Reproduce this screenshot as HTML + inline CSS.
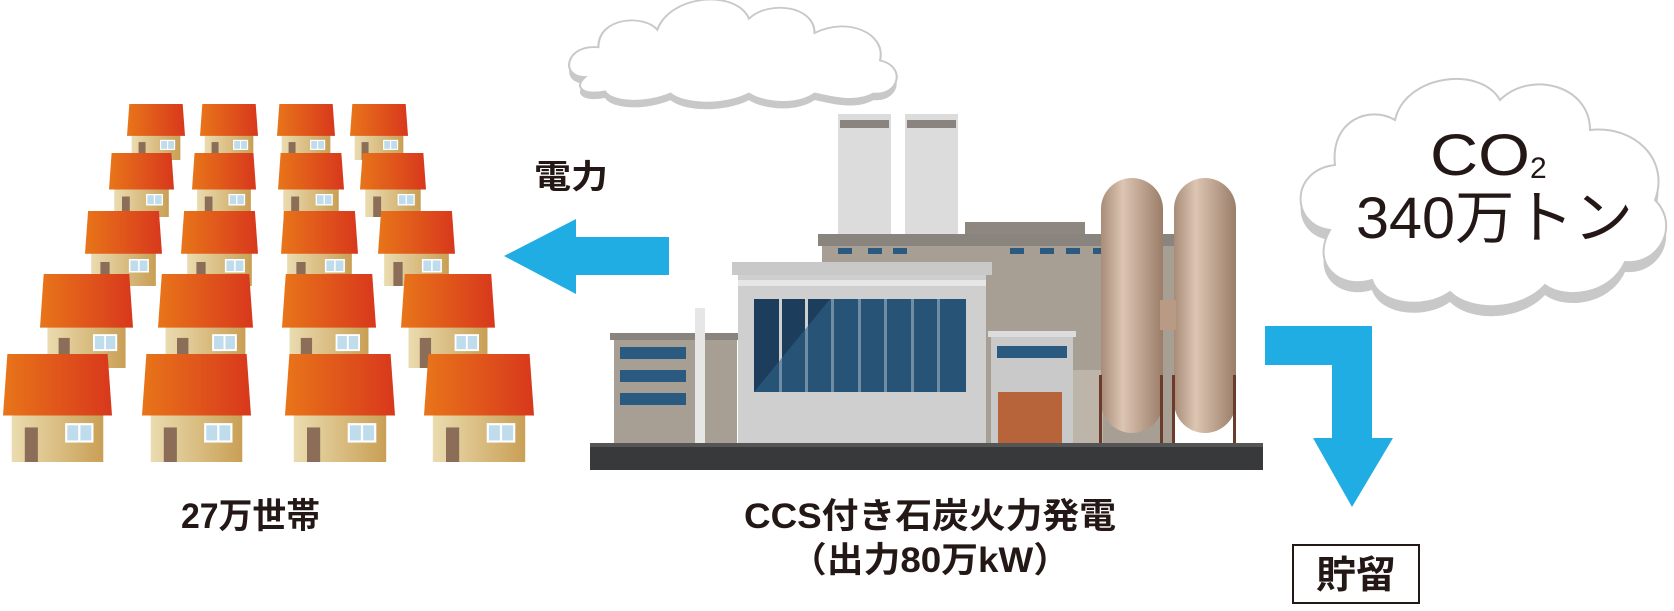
<!DOCTYPE html>
<html><head><meta charset="utf-8"><style>
html,body{margin:0;padding:0;background:#fff;width:1674px;height:611px;overflow:hidden}
svg{display:block}
text{font-family:"Liberation Sans","Noto Sans CJK JP",sans-serif;fill:#231815}
</style></head><body>
<svg width="1674" height="611" viewBox="0 0 1674 611" xmlns="http://www.w3.org/2000/svg">
<defs>
<linearGradient id="roof" x1="0" x2="1" y1="0" y2="0"><stop offset="0" stop-color="#e8751a"/><stop offset="1" stop-color="#d8381c"/></linearGradient>
<linearGradient id="wall" x1="0" x2="1" y1="0" y2="0"><stop offset="0" stop-color="#eadcb0"/><stop offset="1" stop-color="#c99f55"/></linearGradient>
<linearGradient id="tank" x1="0" x2="1" y1="0" y2="0"><stop offset="0" stop-color="#a88c78"/><stop offset="0.35" stop-color="#dcc5b2"/><stop offset="1" stop-color="#9a7d69"/></linearGradient>
<symbol id="house" viewBox="0 0 100 100" preserveAspectRatio="none">
<rect x="8" y="55" width="84" height="45" fill="url(#wall)"/>
<rect x="20" y="68" width="12" height="32" fill="#8c6e58"/>
<rect x="57" y="64" width="26" height="18" fill="#fff"/>
<rect x="59" y="66" width="10" height="14" fill="#bfdcec"/><rect x="71" y="66" width="10" height="14" fill="#bfdcec"/>
<polygon points="4,0 96,0 100,57 0,57" fill="url(#roof)"/>
</symbol>
<path id="smoke" d="M575,95 C555,95 560,65 585,68 C585,40 620,38 630,52 C640,20 690,15 700,42 C715,25 750,30 750,55 C775,40 805,55 800,80 C820,85 815,112 795,110 C780,120 760,112 750,110 C735,122 710,118 700,110 C680,122 650,120 640,110 C620,120 595,118 590,108 C575,112 565,105 575,95 Z"/>
</defs>

<g>
<use href="#house" x="127" y="104" width="58" height="56"/>
<use href="#house" x="200" y="104" width="58" height="56"/>
<use href="#house" x="277" y="104" width="58" height="56"/>
<use href="#house" x="350" y="104" width="58" height="56"/>
<use href="#house" x="109" y="153" width="65" height="64"/>
<use href="#house" x="192" y="153" width="64" height="64"/>
<use href="#house" x="278" y="153" width="66" height="64"/>
<use href="#house" x="360" y="153" width="66" height="64"/>
<use href="#house" x="85" y="211" width="77" height="75"/>
<use href="#house" x="181" y="211" width="77" height="75"/>
<use href="#house" x="281" y="211" width="77" height="75"/>
<use href="#house" x="378" y="211" width="77" height="75"/>
<use href="#house" x="40" y="274" width="93" height="94"/>
<use href="#house" x="158" y="274" width="95" height="94"/>
<use href="#house" x="282" y="274" width="94" height="94"/>
<use href="#house" x="401" y="274" width="94" height="94"/>
<use href="#house" x="3" y="354" width="109" height="108"/>
<use href="#house" x="142" y="354" width="109" height="108"/>
<use href="#house" x="285" y="354" width="110" height="108"/>
<use href="#house" x="424" y="354" width="110" height="108"/>
</g>

<polygon points="504,256 576,219 576,237 669,237 669,275 576,275 576,294" fill="#20ade4"/>
<text x="534" y="188" font-size="33" font-weight="bold" textLength="74" lengthAdjust="spacingAndGlyphs">電力</text>

<g transform="translate(563,-27.5) scale(1.31,1.1) translate(-558,0)">
<use href="#smoke" fill="#c8c8c8" transform="translate(0,6)"/>
<use href="#smoke" fill="#fff" stroke="#c8c8c8" stroke-width="1.6"/>
</g>

<g>
<rect x="838" y="114" width="53" height="120" fill="#dcdcdc"/>
<rect x="905" y="114" width="53" height="120" fill="#dcdcdc"/>
<rect x="840" y="120" width="49" height="8" fill="#8a8480"/>
<rect x="907" y="120" width="49" height="8" fill="#8a8480"/>
<rect x="965" y="222" width="120" height="14" fill="#8e8780"/>
<rect x="818" y="234" width="360" height="12" fill="#8a847e"/>
<rect x="822" y="246" width="352" height="197" fill="#a79e94"/>
<g fill="#2a5a80"><rect x="838" y="248" width="14" height="6"/><rect x="868" y="248" width="14" height="6"/><rect x="893" y="248" width="14" height="6"/><rect x="1010" y="248" width="14" height="6"/><rect x="1040" y="248" width="14" height="6"/><rect x="1066" y="248" width="14" height="6"/><rect x="1093" y="248" width="14" height="6"/></g>
<rect x="614" y="333" width="123" height="110" fill="#a79e94"/>
<rect x="610" y="333" width="130" height="7" fill="#8a847e"/>
<g fill="#2a5a80"><rect x="620" y="347" width="66" height="12"/><rect x="620" y="370" width="66" height="12"/><rect x="620" y="393" width="66" height="12"/></g>
<rect x="695" y="308" width="10" height="135" fill="#e6e6e6"/>
<rect x="732" y="262" width="260" height="13" fill="#c9c9c9"/>
<rect x="738" y="275" width="248" height="168" fill="#cfcfcf"/>
<rect x="738" y="280" width="248" height="6" fill="#e6e6e6"/>
<rect x="754" y="299" width="212" height="93" fill="#1d3d5c"/>
<g fill="#cfcfcf"><rect x="779" y="299" width="3" height="93"/><rect x="805" y="299" width="3" height="93"/><rect x="831" y="299" width="3" height="93"/><rect x="858" y="299" width="3" height="93"/><rect x="884" y="299" width="3" height="93"/><rect x="911" y="299" width="3" height="93"/><rect x="937" y="299" width="3" height="93"/></g>
<polygon points="754,392 830,299 966,299 966,392" fill="#2e6388" opacity="0.6"/>
<rect x="991" y="331" width="82" height="112" fill="#c9c9c9"/>
<rect x="988" y="331" width="88" height="6" fill="#dcdcdc"/>
<rect x="997" y="346" width="70" height="12" fill="#2a5a80"/>
<rect x="998" y="392" width="64" height="51" fill="#b8643a"/>
<rect x="1073" y="370" width="30" height="73" fill="#bdb4aa"/>
<rect x="1101" y="178" width="62" height="255" rx="31" fill="url(#tank)"/>
<rect x="1174" y="178" width="62" height="255" rx="31" fill="url(#tank)"/>
<rect x="1160" y="300" width="16" height="30" fill="#b89a85"/>
<g fill="#6b3b2c"><rect x="1099" y="375" width="3" height="68"/><rect x="1160" y="375" width="3" height="68"/><rect x="1172" y="375" width="3" height="68"/><rect x="1233" y="375" width="3" height="68"/></g>
<rect x="590" y="443" width="673" height="27" fill="#38393b"/>
<rect x="590" y="443" width="673" height="4" fill="#555"/>
</g>

<g>
<path d="M1330,230 C1290,225 1290,170 1335,165 C1330,120 1370,105 1395,120 C1405,75 1480,65 1500,100 C1530,70 1590,85 1590,130 C1635,125 1670,160 1655,200 C1680,225 1660,265 1625,262 C1610,295 1565,300 1545,285 C1520,312 1470,312 1450,292 C1425,310 1380,305 1372,280 C1340,290 1310,265 1330,230 Z" fill="#c8c8c8" transform="translate(0,10)"/>
<path d="M1330,230 C1290,225 1290,170 1335,165 C1330,120 1370,105 1395,120 C1405,75 1480,65 1500,100 C1530,70 1590,85 1590,130 C1635,125 1670,160 1655,200 C1680,225 1660,265 1625,262 C1610,295 1565,300 1545,285 C1520,312 1470,312 1450,292 C1425,310 1380,305 1372,280 C1340,290 1310,265 1330,230 Z" fill="#fff" stroke="#c8c8c8" stroke-width="2"/>
<text x="1430" y="175" font-size="58" textLength="100" lengthAdjust="spacingAndGlyphs">CO</text><text x="1530" y="178" font-size="30">2</text>
<text x="1356" y="238" font-size="58" textLength="277" lengthAdjust="spacingAndGlyphs">340万トン</text>
</g>

<polygon points="1265,326 1372,326 1372,438 1393,438 1352,507 1313,438 1332,438 1332,365 1265,365" fill="#20ade4"/>
<rect x="1293" y="545" width="126" height="58" fill="#fff" stroke="#231815" stroke-width="2"/>
<text x="1356" y="588" font-size="38" font-weight="bold" text-anchor="middle" textLength="80" lengthAdjust="spacingAndGlyphs">貯留</text>

<text x="181" y="528" font-size="35" font-weight="bold" textLength="139" lengthAdjust="spacingAndGlyphs">27万世帯</text>
<text x="744" y="528" font-size="35" font-weight="bold" textLength="372" lengthAdjust="spacingAndGlyphs">CCS付き石炭火力発電</text>
<text x="790" y="572" font-size="35" font-weight="bold" textLength="280" lengthAdjust="spacingAndGlyphs">（出力80万kW）</text>
</svg>
</body></html>
